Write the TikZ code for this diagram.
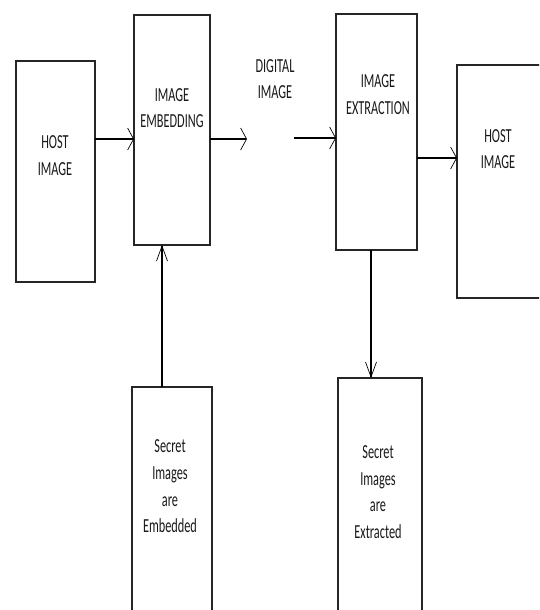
\documentclass[tikz,border=0pt]{standalone}
\usepackage{fontspec}
\setmainfont{Carlito}
\usepackage{graphicx}
\usetikzlibrary{arrows.meta}
\newcommand\talltext[1]{\scalebox{1}[1.62]{\fontsize{12.3}{16.4}\selectfont\begin{tabular}{@{}c@{}}#1\end{tabular}}}
\begin{document}
\begin{tikzpicture}[x=1pt,y=-1pt,
  boxnode/.style={draw=black!85, line width=1.2pt, rectangle, inner sep=0pt, outer sep=0pt},
  lbl/.style={inner sep=0pt, text=black!90},
  harrow/.style={draw=black, line width=1.1pt, -{Straight Barb[length=6pt,width=22pt,line width=0.7pt]}},
  varrow/.style={draw=black, line width=1.1pt, -{Straight Barb[length=15pt,width=11pt,line width=0.7pt]}}]
\useasboundingbox (0,0) rectangle (539,610);
\clip (0,0) rectangle (539,610);
% boxes
\node[boxnode, minimum width=79pt, minimum height=221pt] (host1) at (55.5,171.5) {};
\node[boxnode, minimum width=76pt, minimum height=230pt] (embed) at (172,130) {};
\node[boxnode, minimum width=81pt, minimum height=236pt] (extract) at (376.5,132) {};
\node[boxnode, minimum width=90pt, minimum height=233pt] (host2) at (502,181.5) {};
\node[boxnode, minimum width=80pt, minimum height=240pt] (secE) at (172,507) {};
\node[boxnode, minimum width=84pt, minimum height=250pt] (secX) at (380,503) {};
% texts
\node[lbl] (t1) at (55,156.5) {\talltext{HOST\\IMAGE}};
\node[lbl] (t2) at (172,109) {\talltext{IMAGE\\EMBEDDING}};
\node[lbl] (t3) at (275,80) {\talltext{DIGITAL\\IMAGE}};
\node[lbl] (t4) at (378,95.5) {\talltext{IMAGE\\EXTRACTION}};
\node[lbl] (t5) at (498,150) {\talltext{HOST\\IMAGE}};
\node[lbl] (t6) at (170,487.5) {\talltext{Secret\\Images\\are\\Embedded}};
\node[lbl] (t7) at (378,493) {\talltext{Secret\\Images\\are\\Extracted}};
% helper coordinates
\coordinate (r1) at (0,139);
\coordinate (r2) at (0,138);
\coordinate (r3) at (0,158);
\coordinate (c1) at (162,0);
\coordinate (c2) at (371,0);
\coordinate (d1) at (247,139);
\coordinate (d2) at (294,138);
% connectors
\draw[harrow] (host1.east |- r1) -- (embed.west |- r1);
\draw[harrow] (embed.east |- r1) -- (d1);
\draw[harrow] (d2) -- (extract.west |- r2);
\draw[harrow] (extract.east |- r3) -- (host2.west |- r3);
\draw[varrow] (secE.north -| c1) -- (embed.south -| c1);
\draw[varrow] (extract.south -| c2) -- (secX.north -| c2);
\end{tikzpicture}
\end{document}
